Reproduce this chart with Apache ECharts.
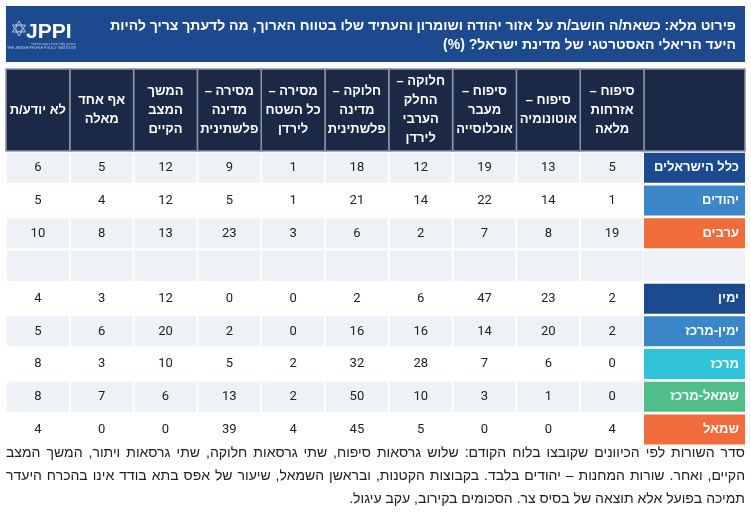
<!DOCTYPE html>
<html lang="he">
<head>
<meta charset="utf-8">
<script src="https://cdn.jsdelivr.net/npm/echarts@6/dist/echarts.min.js"></script>
<style>
html, body { margin: 0; padding: 0; background: #fff; }
#chart { width: 751px; height: 514px; direction: rtl; }
</style>
</head>
<body>
<div id="chart"></div>
<script>
// columns, right to left
var columns = [
    'סיפוח –\nאזרחות\nמלאה',
    'סיפוח –\nאוטונומיה',
    'סיפוח –\nמעבר\nאוכלוסייה',
    'חלוקה –\nהחלק\nהערבי\nלירדן',
    'חלוקה –\nמדינה\nפלשתינית',
    'מסירה –\nכל השטח\nלירדן',
    'מסירה –\nמדינה\nפלשתינית',
    'המשך\nהמצב\nהקיים',
    'אף אחד\nמאלה',
    'לא יודע/ת'
];
var rowLabels = ['כלל הישראלים', 'יהודים', 'ערבים', '', 'ימין', 'ימין-מרכז', 'מרכז', 'שמאל-מרכז', 'שמאל'];

var allIsraelis = [5, 13, 19, 12, 18, 1, 9, 12, 5, 6];
var jews        = [1, 14, 22, 14, 21, 1, 5, 12, 4, 5];
var arabs       = [19, 8, 7, 2, 6, 3, 23, 13, 8, 10];
var spacer      = [];
var right       = [2, 23, 47, 6, 2, 0, 0, 12, 3, 4];
var centerRight = [2, 20, 14, 16, 16, 0, 2, 20, 6, 5];
var center      = [0, 6, 7, 28, 32, 2, 5, 10, 3, 8];
var centerLeft  = [0, 1, 3, 10, 50, 2, 13, 6, 7, 8];
var left        = [4, 0, 0, 5, 45, 4, 39, 0, 0, 4];
var rows = [allIsraelis, jews, arabs, spacer, right, centerRight, center, centerLeft, left];

var titleLines = [
    'פירוט מלא: כשאת/ה חושב/ת על אזור יהודה ושומרון והעתיד שלו בטווח הארוך, מה לדעתך צריך להיות',
    'היעד הריאלי האסטרטגי של מדינת ישראל? (%)'
];
var noteLines = [
    'סדר השורות לפי הכיוונים שקובצו בלוח הקודם: שלוש גרסאות סיפוח, שתי גרסאות חלוקה, שתי גרסאות ויתור, המשך המצב',
    'הקיים, ואחר. שורות המחנות – יהודים בלבד. בקבוצות הקטנות, ובראשן השמאל, שיעור של אפס בתא בודד אינו בהכרח היעדר',
    'תמיכה בפועל אלא תוצאה של בסיס צר. הסכומים בקירוב, עקב עיגול.'
];

// styling
var labelColors = ['#1c4a8e', '#3b86c8', '#f26c3b', '#eef1f6', '#1c4a8e', '#3b86c8', '#2fc4d9', '#4fbe88', '#f26c3b'];
var stripe = [1, 0, 1, 1, 0, 1, 0, 1, 0];
var HEB = '"Liberation Sans", "DejaVu Sans", sans-serif';
var NAVY = '#1b2846';
var NOTE_FONT = '14px ' + HEB;

var cells = [];
rows.forEach(function (vals, r) {
    columns.forEach(function (c, i) {
        cells.push([i, r, vals.length ? vals[i] : NaN]);
    });
});

var rich = {};
rowLabels.forEach(function (name, i) {
    rich['r' + i] = {
        backgroundColor: labelColors[i],
        width: 95,
        height: 30,
        align: 'right',
        padding: [0, 6, 0, 0],
        color: '#fff',
        fontWeight: 'bold',
        fontSize: 13,
        fontFamily: HEB
    };
});

// footnote: justified lines, right to left
var measureCtx = document.createElement('canvas').getContext('2d');
measureCtx.font = NOTE_FONT;
function noteGraphics(lines, xLeft, xRight, ys) {
    var out = [];
    lines.forEach(function (line, li) {
        if (li === lines.length - 1) {
            out.push({ type: 'text', style: { x: xRight, y: ys[li], text: line, align: 'right', verticalAlign: 'middle', fill: '#222', font: NOTE_FONT } });
            return;
        }
        var words = line.split(' ');
        var widths = words.map(function (w) { return measureCtx.measureText(w).width; });
        var total = widths.reduce(function (a, b) { return a + b; }, 0);
        var gap = (xRight - xLeft - total) / (words.length - 1);
        var x = xRight;
        words.forEach(function (w, wi) {
            out.push({ type: 'text', style: { x: x, y: ys[li], text: w, align: 'right', verticalAlign: 'middle', fill: '#222', font: NOTE_FONT } });
            x -= widths[wi] + gap;
        });
    });
    return out;
}

var chart = echarts.init(document.getElementById('chart'));
chart.setOption({
    animation: false,
    grid: [
        { left: 6, right: 107, top: 69, height: 82 },
        { left: 6, right: 107, top: 151.5, height: 294.3 }
    ],
    xAxis: [
        { gridIndex: 0, type: 'category', data: columns, inverse: true, show: false },
        { gridIndex: 1, type: 'category', data: columns, inverse: true, show: false }
    ],
    yAxis: [
        { gridIndex: 0, type: 'category', data: [''], show: false },
        {
            gridIndex: 1, type: 'category', data: rowLabels, inverse: true, position: 'right',
            axisLine: { show: false }, axisTick: { show: false }, splitLine: { show: false },
            axisLabel: {
                interval: 0, margin: 0,
                formatter: function (v, i) { return '{r' + i + '|' + v + '}'; },
                rich: rich
            }
        }
    ],
    series: [
        {
            type: 'custom',
            xAxisIndex: 0, yAxisIndex: 0,
            data: columns.map(function (c, i) { return [i, 0]; }),
            renderItem: function (params, api) {
                var i = api.value(0);
                var p = api.coord([i, 0]);
                var s = api.size([1, 1]);
                return {
                    type: 'group',
                    children: [{
                        type: 'rect',
                        shape: { x: p[0] - s[0] / 2, y: p[1] - s[1] / 2, width: s[0], height: s[1] },
                        style: { fill: NAVY, stroke: '#8c93a2', lineWidth: 1.5 }
                    }, {
                        type: 'text',
                        style: {
                            x: p[0], y: p[1], text: columns[i],
                            align: 'center', verticalAlign: 'middle',
                            fill: '#fff', font: 'bold 13px ' + HEB, lineHeight: 19
                        }
                    }]
                };
            }
        },
        {
            type: 'custom',
            xAxisIndex: 1, yAxisIndex: 1,
            data: cells,
            renderItem: function (params, api) {
                var c = api.value(0), r = api.value(1), v = api.value(2);
                var p = api.coord([c, r]);
                var s = api.size([1, 1]);
                return {
                    type: 'group',
                    children: [{
                        type: 'rect',
                        shape: { x: p[0] - s[0] / 2 + 1, y: p[1] - s[1] / 2 + 1.25, width: s[0] - 2, height: s[1] - 2.5 },
                        style: { fill: stripe[r] ? '#eef1f6' : '#fff' }
                    }, {
                        type: 'text',
                        style: {
                            x: p[0], y: p[1], text: isNaN(v) ? '' : String(v),
                            align: 'center', verticalAlign: 'middle',
                            fill: '#222', font: '13px Roboto, sans-serif'
                        }
                    }]
                };
            }
        }
    ],
    graphic: [
        { type: 'rect', shape: { x: 6, y: 6, width: 739, height: 56 }, style: { fill: '#1d4a8f' } },
        { type: 'text', style: { x: 736, y: 26, text: titleLines[0], align: 'right', verticalAlign: 'middle', fill: '#fff', font: 'bold 14px ' + HEB } },
        { type: 'text', style: { x: 736, y: 45, text: titleLines[1], align: 'right', verticalAlign: 'middle', fill: '#fff', font: 'bold 14px ' + HEB } },
        { type: 'polygon', shape: { points: [[19, 21], [25.5, 32], [12.5, 32]] }, style: { fill: 'none', stroke: '#d5ddec', lineWidth: 0.8 } },
        { type: 'polygon', shape: { points: [[19, 36], [25.5, 25], [12.5, 25]] }, style: { fill: 'none', stroke: '#d5ddec', lineWidth: 0.8 } },
        { type: 'circle', shape: { cx: 19, cy: 28.5, r: 3 }, style: { fill: 'none', stroke: '#d5ddec', lineWidth: 0.6 } },
        { type: 'text', style: { x: 26, y: 32, text: 'JPPI', align: 'left', verticalAlign: 'middle', fill: '#fff', font: 'bold 21px "Liberation Sans", sans-serif' } },
        { type: 'text', style: { x: 76, y: 44, text: 'המכון למדיניות העם היהודי', align: 'right', verticalAlign: 'middle', fill: '#c9d3e6', font: '4px ' + HEB } },
        { type: 'text', style: { x: 76, y: 48, text: 'THE JEWISH PEOPLE POLICY INSTITUTE', align: 'right', verticalAlign: 'middle', fill: '#c9d3e6', font: '3.5px "Liberation Sans", sans-serif' } },
        { type: 'rect', shape: { x: 644, y: 69, width: 101, height: 82 }, style: { fill: NAVY, stroke: '#8c93a2', lineWidth: 1.5 } }
    ].concat(noteGraphics(noteLines, 6, 745, [453, 476, 499]))
});
</script>
</body>
</html>
